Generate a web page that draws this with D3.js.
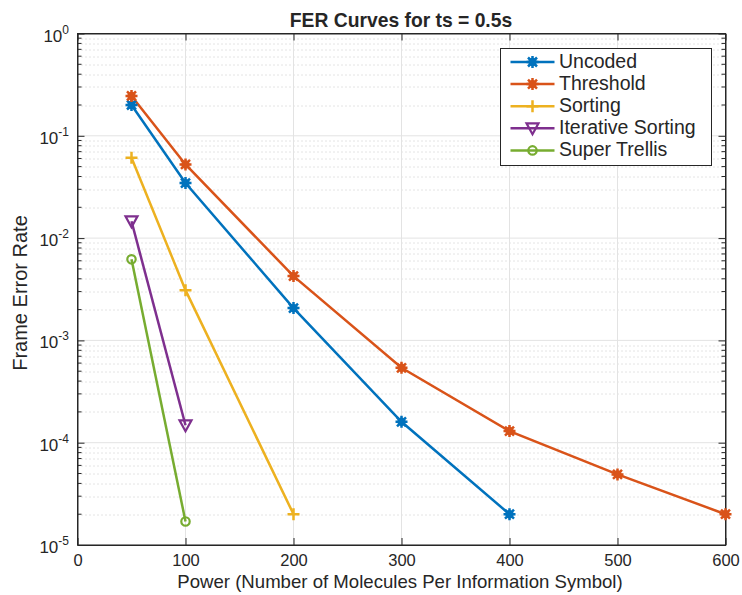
<!DOCTYPE html>
<html>
<head>
<meta charset="utf-8">
<script src="https://cdn.jsdelivr.net/npm/d3@7"></script>
<style>
body{margin:0;background:#fff;}
text{font-family:"Liberation Sans",Arial,Helvetica,sans-serif;fill:#262626;}
</style>
</head>
<body>
<div id="chart"></div>
<script>
// data
var powers = [50, 100, 200, 300, 400, 500, 600];
var uncoded = [0.2, 0.0345, 0.00207, 1.6e-4, 2e-5];
var threshold = [0.245, 0.0525, 0.00425, 5.4e-4, 1.3e-4, 4.9e-5, 2e-5];
var sorting = [0.061, 0.0031, 2e-5];
var iterSorting = [0.0146, 1.48e-4];
var superTrellis = [0.0062, 1.7e-5];
var seriesNames = ["Uncoded", "Threshold", "Sorting", "Iterative Sorting", "Super Trellis"];
var xTicks = [0, 100, 200, 300, 400, 500, 600];
var yExps = [0, -1, -2, -3, -4, -5];

var colors = ["#0072BD", "#D95319", "#EDB120", "#7E2F8E", "#77AC30"];
var symbols = ["star", "star", "plus", "tri", "circle"];
var allY = [uncoded, threshold, sorting, iterSorting, superTrellis];

var series = seriesNames.map(function(n, i){
	return {name: n, color: colors[i], sym: symbols[i],
		values: allY[i].map(function(v, j){ return {x: powers[j], y: v}; })};
});

var W = 742, H = 595;
var m = {left: 77.5, right: 16.5, top: 33.5, bottom: 50};
var w = W - m.left - m.right, h = H - m.top - m.bottom;

var svg = d3.select("#chart").append("svg").attr("width", W).attr("height", H);
var g = svg.append("g").attr("transform", "translate(" + [m.left, m.top] + ")");

var x = d3.scaleLinear().domain([0, 600]).range([0, w]);
var y = d3.scaleLog().domain([1e-5, 1]).range([h, 0]);

// minor grid (y only)
var minors = [];
for(var e = -5; e < 0; e++){
	for(var k = 2; k <= 9; k++) minors.push(k * Math.pow(10, e));
}
g.append("g").selectAll("line").data(minors).enter().append("line")
	.attr("x1", 0).attr("x2", w)
	.attr("y1", function(d){ return Math.round(y(d)) + 0.5; })
	.attr("y2", function(d){ return Math.round(y(d)) + 0.5; })
	.attr("stroke", "#c8c8c8").attr("stroke-width", 1).attr("stroke-dasharray", "1,3");

// major grid
g.append("g").selectAll("line").data(yExps).enter().append("line")
	.attr("x1", 0).attr("x2", w)
	.attr("y1", function(d){ return y(Math.pow(10, d)); })
	.attr("y2", function(d){ return y(Math.pow(10, d)); })
	.attr("stroke", "#e3e3e3").attr("stroke-width", 1);
g.append("g").selectAll("line").data(xTicks).enter().append("line")
	.attr("x1", function(d){ return x(d); }).attr("x2", function(d){ return x(d); })
	.attr("y1", 0).attr("y2", h)
	.attr("stroke", "#e3e3e3").attr("stroke-width", 1);

// axes
var xAxisB = d3.axisBottom(x).tickValues(xTicks).tickSizeInner(-7).tickSizeOuter(0).tickPadding(9);
var xAxisT = d3.axisTop(x).tickValues(xTicks).tickSizeInner(-7).tickSizeOuter(0).tickFormat("");
var yAxisL = d3.axisLeft(y).tickValues(yExps.map(function(e){ return Math.pow(10, e); }))
	.tickSizeInner(-7).tickSizeOuter(0).tickFormat("");
var yAxisR = d3.axisRight(y).tickValues(yExps.map(function(e){ return Math.pow(10, e); }))
	.tickSizeInner(-7).tickSizeOuter(0).tickFormat("");

function styleAxis(sel){
	sel.selectAll("path").attr("stroke", "#262626");
	sel.selectAll("line").attr("stroke", "#262626");
	sel.selectAll("text").attr("font-size", 16.5).attr("fill", "#262626")
		.attr("font-family", "'Liberation Sans',Arial,sans-serif");
}
styleAxis(g.append("g").attr("transform", "translate(0," + h + ")").call(xAxisB));
styleAxis(g.append("g").call(xAxisT));
styleAxis(g.append("g").call(yAxisL));
styleAxis(g.append("g").attr("transform", "translate(" + w + ",0)").call(yAxisR));

// minor ticks on left/right
[0, w].forEach(function(px){
	var dir = px === 0 ? 1 : -1;
	g.append("g").selectAll("line").data(minors).enter().append("line")
		.attr("x1", px).attr("x2", px + dir * 4)
		.attr("y1", function(d){ return y(d); }).attr("y2", function(d){ return y(d); })
		.attr("stroke", "#262626");
});

// y tick labels 10^e
var yl = g.append("g").selectAll("text").data(yExps).enter().append("text")
	.attr("x", -8.5).attr("y", function(d){ return y(Math.pow(10, d)) + 8; })
	.attr("text-anchor", "end").attr("font-size", 17);
yl.append("tspan").text("10");
yl.append("tspan").attr("dy", -8).attr("font-size", 12).text(function(d){ return d === 0 ? "0" : "-" + (-d); });

// box
g.append("rect").attr("width", w).attr("height", h).attr("fill", "none").attr("stroke", "#262626");

// lines
var line = d3.line().x(function(d){ return x(d.x); }).y(function(d){ return y(d.y); });
g.append("g").selectAll("path").data(series).enter().append("path")
	.attr("d", function(d){ return line(d.values); })
	.attr("fill", "none").attr("stroke", function(d){ return d.color; }).attr("stroke-width", 2.5);

function drawMarker(sel, sym, color){
	if(sym === "star"){
		var r = 6, q = r * 0.75;
		sel.append("path").attr("d", "M" + (-r) + ",0L" + r + ",0M0," + (-r) + "L0," + r +
			"M" + (-q) + "," + (-q) + "L" + q + "," + q + "M" + (-q) + "," + q + "L" + q + "," + (-q))
			.attr("stroke", color).attr("stroke-width", 2.5).attr("fill", "none");
		sel.append("circle").attr("r", 4.2).attr("fill", color);
	} else if(sym === "plus"){
		sel.append("path").attr("d", "M-6,0L6,0M0,-6L0,6")
			.attr("stroke", color).attr("stroke-width", 2.5).attr("fill", "none");
	} else if(sym === "tri"){
		sel.append("path").attr("d", "M-6,-5L6,-5L0,6Z")
			.attr("stroke", color).attr("stroke-width", 2.2).attr("fill", "none");
	} else {
		sel.append("circle").attr("r", 4.2).attr("stroke", color).attr("stroke-width", 2.2).attr("fill", "none");
	}
}

series.forEach(function(s){
	s.values.forEach(function(p){
		var mk = g.append("g").attr("transform", "translate(" + [x(p.x), y(p.y)] + ")");
		drawMarker(mk, s.sym, s.color);
	});
});

// legend
var lg = svg.append("g").attr("transform", "translate(500.5,48.5)");
lg.append("rect").attr("width", 211).attr("height", 117).attr("fill", "#fff").attr("stroke", "#262626");
series.forEach(function(s, i){
	var row = lg.append("g").attr("transform", "translate(0," + (13.5 + i * 22.1) + ")");
	row.append("line").attr("x1", 10).attr("x2", 54).attr("stroke", s.color).attr("stroke-width", 2.5);
	drawMarker(row.append("g").attr("transform", "translate(32,0)"), s.sym, s.color);
	row.append("text").attr("x", 58.5).attr("y", 5.5).attr("font-size", 19.5).attr("fill", "#000").text(s.name);
});

// title and labels
svg.append("text").attr("x", 401).attr("y", 27).attr("text-anchor", "middle")
	.attr("font-size", 19.3).attr("font-weight", "bold").attr("fill", "#000").text("FER Curves for ts = 0.5s");
svg.append("text").attr("x", 400).attr("y", 588).attr("text-anchor", "middle")
	.attr("font-size", 18.6).text("Power (Number of Molecules Per Information Symbol)");
svg.append("text").attr("transform", "translate(27,293) rotate(-90)")
	.attr("text-anchor", "middle").attr("font-size", 20).text("Frame Error Rate");
</script>
</body>
</html>
